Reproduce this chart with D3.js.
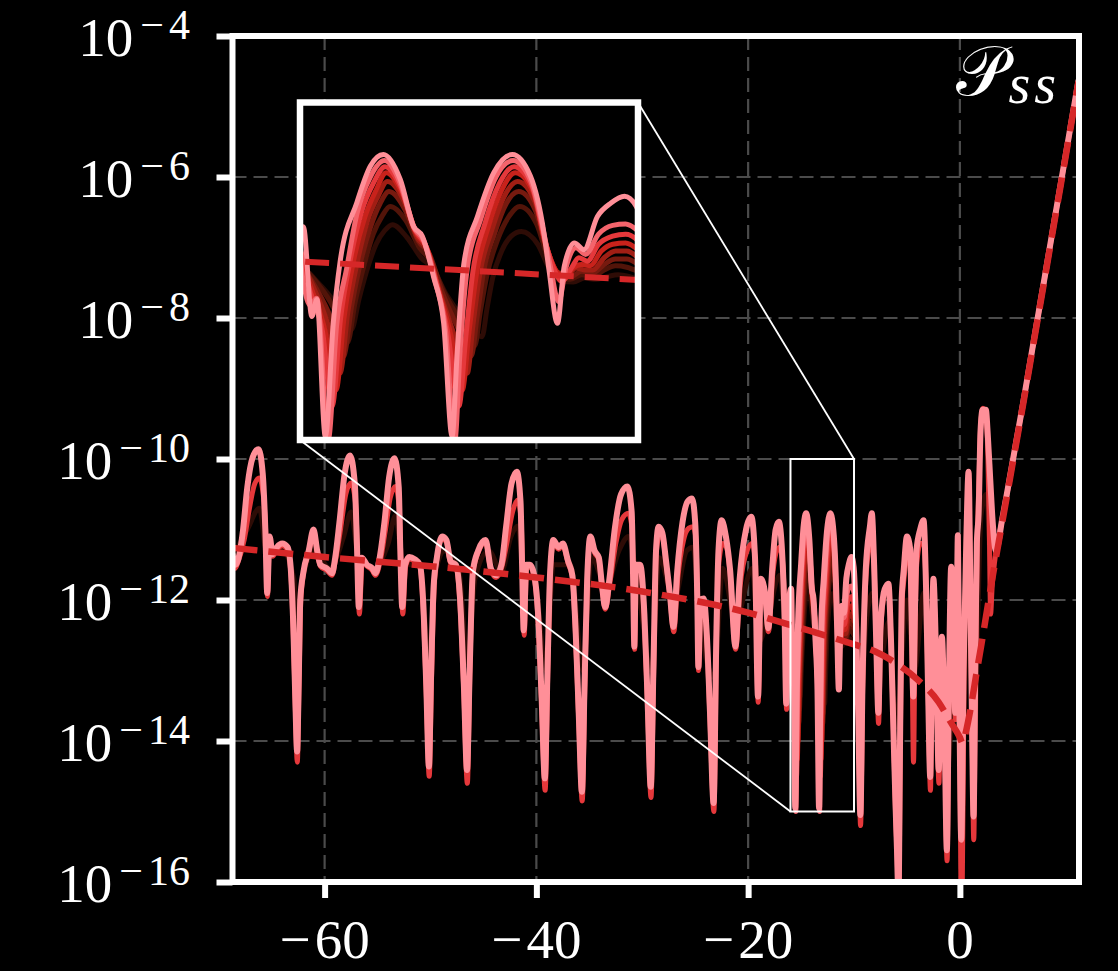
<!DOCTYPE html>
<html>
<head>
<meta charset="utf-8">
<script src="https://cdn.jsdelivr.net/npm/d3@7"></script>
<style>
  body { margin: 0; background: #000; }
  svg { display: block; }
</style>
</head>
<body>
<div class="canvas"></div>
<script>
// axis limits and ticks (y values stored as powers of ten)
var xLimits = [-68.7, 11.25];
var yLimitsExp = [-16, -4];
var xTickValues = [-60, -40, -20, 0];
var yTickExponents = [-16, -14, -12, -10, -8, -6, -4];
var insetXLimits = [-16, -10];
var insetYLimitsExp = [-15, -10];

// [x, log10 P]
var pssPink = [[-68.7,-11.35],[-68.45,-11.5],[-68.15,-11.42],[-67.7,-11.0],[-67.3,-10.4],[-66.8,-9.98],[-66.25,-9.86],[-65.85,-10.2],[-65.6,-11.0],[-65.42,-11.9],[-65.2,-11.1],[-64.9,-11.35],[-64.5,-11.25],[-64.0,-11.2],[-63.5,-11.25],[-63.2,-11.55],[-62.95,-12.4],[-62.75,-13.5],[-62.6,-14.15],[-62.45,-13.2],[-62.3,-12.0],[-62.0,-11.6],[-61.5,-11.3],[-61.05,-11.0],[-60.7,-11.3],[-60.4,-11.5],[-59.8,-11.55],[-59.3,-11.62],[-59.0,-11.4],[-58.6,-10.9],[-58.1,-10.2],[-57.6,-9.95],[-57.15,-10.35],[-56.95,-11.2],[-56.77,-12.1],[-56.5,-11.4],[-56.0,-11.5],[-55.5,-11.55],[-55.2,-11.62],[-54.8,-11.4],[-54.35,-10.9],[-53.9,-10.25],[-53.4,-9.99],[-53.0,-10.4],[-52.85,-11.3],[-52.67,-12.1],[-52.4,-11.5],[-52.0,-11.39],[-51.5,-11.42],[-51.0,-11.5],[-50.7,-12.0],[-50.4,-13.2],[-50.15,-14.36],[-49.95,-13.1],[-49.7,-11.8],[-49.4,-11.4],[-48.9,-11.1],[-48.5,-11.15],[-48.1,-11.45],[-47.6,-11.5],[-47.2,-12.0],[-46.85,-13.2],[-46.55,-14.41],[-46.3,-13.0],[-46.0,-11.6],[-45.5,-11.3],[-44.8,-11.15],[-44.3,-11.55],[-43.8,-11.65],[-43.3,-11.5],[-42.85,-10.95],[-42.35,-10.35],[-41.85,-10.18],[-41.5,-10.6],[-41.35,-11.5],[-41.2,-12.43],[-40.95,-11.5],[-40.6,-11.5],[-40.2,-11.65],[-39.8,-12.3],[-39.5,-13.4],[-39.2,-14.53],[-38.95,-13.0],[-38.7,-11.6],[-38.4,-11.15],[-37.9,-11.25],[-37.5,-11.2],[-37.0,-11.45],[-36.6,-11.65],[-36.3,-12.4],[-36.0,-13.6],[-35.7,-14.72],[-35.45,-13.2],[-35.2,-11.7],[-34.9,-11.1],[-34.5,-11.3],[-34.1,-11.4],[-33.8,-11.8],[-33.5,-12.1],[-33.1,-11.7],[-32.6,-11.0],[-32.0,-10.5],[-31.4,-10.39],[-31.0,-10.75],[-30.85,-11.8],[-30.75,-12.66],[-30.6,-11.5],[-30.2,-11.5],[-29.8,-12.2],[-29.5,-13.4],[-29.2,-14.65],[-28.95,-13.0],[-28.7,-11.3],[-28.45,-10.96],[-28.1,-11.05],[-27.75,-11.45],[-27.4,-11.9],[-27.05,-12.38],[-26.7,-11.6],[-26.2,-10.9],[-25.7,-10.6],[-25.3,-10.56],[-25.0,-10.9],[-24.8,-12.0],[-24.7,-12.95],[-24.5,-12.0],[-24.2,-11.98],[-23.9,-12.5],[-23.6,-13.6],[-23.26,-14.88],[-23.0,-12.5],[-22.8,-11.3],[-22.5,-10.87],[-22.1,-11.1],[-21.7,-11.58],[-21.2,-12.66],[-20.8,-11.7],[-20.2,-11.0],[-19.7,-10.82],[-19.35,-11.4],[-19.07,-13.37],[-18.8,-11.7],[-18.4,-11.9],[-18.1,-12.4],[-17.7,-11.5],[-17.4,-11.0],[-17.1,-10.89],[-16.8,-11.3],[-16.55,-12.3],[-16.4,-13.47],[-16.2,-12.2],[-15.94,-11.84],[-15.79,-13.17],[-15.7,-12.92],[-15.55,-14.95],[-15.41,-13.27],[-15.29,-12.37],[-14.99,-11.48],[-14.75,-10.94],[-14.52,-10.77],[-14.22,-11.14],[-13.98,-11.84],[-13.83,-11.98],[-13.63,-12.58],[-13.45,-13.27],[-13.3,-14.95],[-13.21,-13.71],[-13.09,-12.38],[-12.85,-11.69],[-12.56,-11.04],[-12.23,-10.77],[-11.91,-11.09],[-11.67,-11.93],[-11.58,-12.48],[-11.43,-13.27],[-11.31,-12.43],[-11.13,-12.08],[-10.96,-12.18],[-10.72,-11.69],[-10.48,-11.49],[-10.24,-11.39],[-10.03,-11.54],[-9.8,-12.4],[-9.6,-13.6],[-9.4,-15.05],[-9.2,-13.2],[-8.9,-11.6],[-8.5,-10.96],[-8.32,-10.77],[-8.1,-11.5],[-7.9,-12.6],[-7.7,-13.6],[-7.5,-12.4],[-7.2,-11.9],[-6.95,-11.8],[-6.75,-11.77],[-6.5,-12.6],[-6.25,-14.0],[-6.1,-14.79],[-5.95,-15.5],[-5.8,-16.2],[-5.65,-14.0],[-5.5,-12.0],[-5.3,-11.57],[-5.0,-11.1],[-4.7,-11.27],[-4.55,-12.3],[-4.4,-13.37],[-4.25,-12.2],[-4.1,-11.3],[-3.75,-11.0],[-3.43,-10.87],[-3.2,-11.8],[-3.0,-13.3],[-2.8,-14.51],[-2.65,-12.8],[-2.5,-11.7],[-2.25,-12.8],[-2.0,-14.41],[-1.85,-13.4],[-1.7,-12.52],[-1.45,-13.8],[-1.23,-15.55],[-1.05,-13.4],[-0.82,-11.53],[-0.6,-12.6],[-0.44,-13.6],[-0.3,-12.4],[-0.19,-11.08],[-0.05,-13.4],[0.13,-15.4],[0.35,-13.0],[0.6,-11.2],[0.82,-10.18],[1.0,-12.0],[1.15,-13.8],[1.29,-15.07],[1.45,-13.0],[1.6,-11.2],[1.77,-10.77],[1.95,-9.6],[2.15,-9.3],[2.45,-9.3],[2.65,-9.7],[2.87,-10.3],[3.1,-10.9],[3.4,-11.3],[4.0,-10.85],[5.0,-10.02],[6.0,-9.18],[7.0,-8.3],[8.0,-7.43],[9.0,-6.55],[10.0,-5.68],[11.2,-4.63]];

var pssRed = [[-68.7,-11.4],[-68.45,-11.55],[-68.15,-11.45],[-67.6,-11.15],[-67.1,-10.7],[-66.6,-10.35],[-66.15,-10.27],[-65.8,-10.5],[-65.55,-11.1],[-65.4,-11.95],[-65.2,-11.15],[-64.9,-11.38],[-64.5,-11.28],[-64.0,-11.23],[-63.5,-11.28],[-63.2,-11.6],[-62.95,-12.5],[-62.75,-13.6],[-62.58,-14.3],[-62.42,-13.2],[-62.25,-12.0],[-62.0,-11.62],[-61.5,-11.33],[-61.0,-11.05],[-60.7,-11.33],[-60.4,-11.52],[-59.8,-11.58],[-59.3,-11.65],[-59.0,-11.45],[-58.5,-11.0],[-58.0,-10.5],[-57.5,-10.34],[-57.1,-10.6],[-56.9,-11.3],[-56.72,-12.2],[-56.45,-11.45],[-56.0,-11.52],[-55.5,-11.58],[-55.2,-11.65],[-54.75,-11.45],[-54.25,-11.0],[-53.8,-10.55],[-53.3,-10.39],[-52.95,-10.7],[-52.8,-11.4],[-52.62,-12.2],[-52.35,-11.52],[-52.0,-11.42],[-51.5,-11.45],[-51.0,-11.53],[-50.7,-12.1],[-50.4,-13.3],[-50.12,-14.5],[-49.9,-13.1],[-49.65,-11.8],[-49.4,-11.42],[-48.9,-11.13],[-48.5,-11.18],[-48.1,-11.48],[-47.6,-11.53],[-47.2,-12.1],[-46.85,-13.3],[-46.52,-14.6],[-46.28,-13.0],[-46.0,-11.62],[-45.5,-11.33],[-44.8,-11.18],[-44.3,-11.58],[-43.8,-11.68],[-43.3,-11.55],[-42.8,-11.2],[-42.25,-10.75],[-41.75,-10.58],[-41.45,-10.85],[-41.3,-11.6],[-41.15,-12.5],[-40.92,-11.52],[-40.6,-11.53],[-40.2,-11.68],[-39.8,-12.4],[-39.5,-13.5],[-39.17,-14.7],[-38.92,-13.0],[-38.68,-11.62],[-38.4,-11.18],[-37.9,-11.28],[-37.5,-11.23],[-37.0,-11.48],[-36.6,-11.68],[-36.3,-12.5],[-36.0,-13.7],[-35.67,-14.85],[-35.42,-13.2],[-35.18,-11.72],[-34.9,-11.13],[-34.5,-11.33],[-34.1,-11.43],[-33.8,-11.83],[-33.5,-12.13],[-33.05,-11.75],[-32.5,-11.2],[-31.9,-10.85],[-31.3,-10.77],[-30.95,-11.0],[-30.82,-11.9],[-30.72,-12.7],[-30.58,-11.52],[-30.2,-11.53],[-29.8,-12.3],[-29.5,-13.5],[-29.17,-14.8],[-28.92,-13.0],[-28.68,-11.35],[-28.4,-11.1],[-28.1,-11.1],[-27.75,-11.48],[-27.4,-11.93],[-27.02,-12.45],[-26.65,-11.7],[-26.1,-11.15],[-25.6,-10.98],[-25.2,-10.96],[-24.95,-11.1],[-24.78,-12.05],[-24.68,-13.0],[-24.48,-12.05],[-24.2,-12.0],[-23.9,-12.55],[-23.6,-13.7],[-23.23,-15.0],[-22.98,-12.5],[-22.75,-11.45],[-22.4,-11.2],[-22.05,-11.25],[-21.7,-11.62],[-21.18,-12.7],[-20.75,-11.8],[-20.1,-11.3],[-19.6,-11.2],[-19.3,-11.5],[-19.05,-13.45],[-18.78,-11.75],[-18.4,-11.93],[-18.08,-12.45],[-17.65,-11.6],[-17.3,-11.3],[-17.0,-11.25],[-16.75,-11.45],[-16.52,-12.35],[-16.37,-13.55],[-16.18,-12.3],[-16.05,-12.1],[-15.82,-12.8],[-15.6,-13.4],[-15.43,-14.5],[-15.28,-13.2],[-15.1,-12.3],[-14.9,-11.6],[-14.7,-11.2],[-14.49,-10.95],[-14.2,-11.28],[-13.95,-11.9],[-13.78,-12.1],[-13.57,-12.7],[-13.38,-13.4],[-13.18,-14.5],[-13.06,-13.5],[-12.93,-12.5],[-12.72,-11.8],[-12.46,-11.2],[-12.2,-10.95],[-11.88,-11.25],[-11.65,-12.05],[-11.5,-12.45],[-11.35,-12.65],[-11.18,-12.45],[-11.05,-12.3],[-10.9,-12.35],[-10.7,-12.1],[-10.45,-11.98],[-10.22,-11.95],[-10.0,-12.05],[-9.78,-12.5],[-9.58,-13.7],[-9.38,-15.2],[-9.18,-13.2],[-8.88,-11.7],[-8.5,-11.2],[-8.3,-11.1],[-8.08,-11.6],[-7.88,-12.7],[-7.68,-13.75],[-7.48,-12.45],[-7.18,-11.95],[-6.93,-11.85],[-6.73,-11.85],[-6.48,-12.7],[-6.23,-14.1],[-6.08,-15.0],[-5.93,-15.6],[-5.78,-16.3],[-5.63,-14.1],[-5.48,-12.1],[-5.28,-11.7],[-4.98,-11.4],[-4.68,-11.45],[-4.53,-12.6],[-4.38,-14.3],[-4.23,-12.4],[-4.08,-11.5],[-3.73,-11.2],[-3.41,-11.2],[-3.18,-11.9],[-2.98,-13.4],[-2.78,-14.7],[-2.63,-12.9],[-2.48,-11.9],[-2.23,-13.0],[-1.98,-14.6],[-1.83,-13.5],[-1.68,-12.7],[-1.43,-14.0],[-1.21,-15.7],[-1.03,-13.5],[-0.8,-11.7],[-0.58,-12.7],[-0.42,-13.7],[-0.28,-12.5],[-0.17,-11.3],[-0.03,-13.6],[0.18,-16.8],[0.38,-13.1],[0.62,-11.4],[0.84,-10.5],[1.02,-12.2],[1.17,-14.0],[1.31,-15.4],[1.47,-13.1],[1.62,-11.4],[1.8,-10.3],[1.98,-9.5],[2.17,-9.28],[2.45,-9.35],[2.65,-10.0],[2.78,-11.0],[2.9,-12.2],[3.05,-11.8],[3.4,-11.32],[4.0,-10.87],[5.0,-10.03],[6.0,-9.19],[7.0,-8.31],[8.0,-7.44],[9.0,-6.56],[10.0,-5.69],[11.2,-4.64]];

var pssDark = [[-68.7,-11.4],[-67.3,-11.0],[-66.15,-10.7],[-65.5,-11.3],[-64.0,-11.3],[-62.9,-11.7],[-62.55,-12.8],[-62.2,-11.8],[-61.0,-11.3],[-59.5,-11.55],[-58.2,-11.1],[-57.5,-10.75],[-56.8,-11.4],[-55.3,-11.55],[-54.0,-11.2],[-53.3,-10.8],[-52.6,-11.5],[-51.0,-11.5],[-50.1,-12.9],[-49.5,-11.6],[-48.7,-11.3],[-47.3,-11.6],[-46.5,-12.9],[-45.8,-11.7],[-44.5,-11.3],[-43.3,-11.6],[-42.4,-11.1],[-41.75,-10.95],[-41.1,-11.7],[-40.2,-11.7],[-39.1,-13.0],[-38.4,-11.5],[-36.8,-11.5],[-35.6,-13.0],[-34.8,-11.4],[-33.4,-11.8],[-32.2,-11.3],[-31.3,-11.1],[-30.5,-11.7],[-29.1,-13.0],[-28.4,-11.4],[-27.0,-12.0],[-25.8,-11.3],[-25.2,-11.25],[-24.6,-12.2],[-23.2,-13.1],[-22.4,-11.55],[-21.2,-12.3],[-19.6,-11.55],[-19.0,-12.6],[-18.1,-12.2],[-17.0,-11.65],[-16.3,-12.6],[-16.05,-12.4],[-15.7,-12.65],[-15.35,-13.0],[-15.09,-13.37],[-14.95,-12.9],[-14.8,-12.45],[-14.65,-12.1],[-14.5,-11.9],[-14.36,-11.81],[-14.1,-12.0],[-13.85,-12.3],[-13.65,-12.45],[-13.4,-12.85],[-13.1,-13.2],[-12.77,-13.47],[-12.68,-13.05],[-12.58,-12.6],[-12.42,-12.2],[-12.25,-11.98],[-12.07,-11.91],[-11.78,-12.1],[-11.55,-12.5],[-11.35,-12.65],[-11.15,-12.66],[-10.95,-12.6],[-10.75,-12.62],[-10.55,-12.58],[-10.35,-12.55],[-10.15,-12.58],[-10.0,-12.62],[-9.7,-12.7],[-9.3,-13.4],[-8.9,-12.4],[-8.25,-11.9],[-7.6,-12.9],[-6.7,-12.3],[-6.0,-13.8],[-5.0,-12.0],[-4.3,-13.0],[-3.4,-11.9],[-2.8,-13.6],[-2.0,-13.6],[-1.2,-14.4],[-0.2,-12.2],[0.15,-14.8],[0.8,-11.5],[1.3,-14.2],[2.0,-10.8],[2.5,-10.5],[3.0,-11.7],[3.4,-11.35],[4.0,-10.88],[5.0,-10.04],[6.0,-9.19],[7.0,-8.31],[8.0,-7.44],[9.0,-6.56],[10.0,-5.69],[11.2,-4.64]];

// intermediate runs, read only inside the zoom window
var pssZoomA = [[-16.05,-12.0],[-15.82,-13.0],[-15.7,-12.9],[-15.5,-15.0],[-15.35,-13.3],[-15.17,-12.45],[-14.99,-11.65],[-14.75,-11.1],[-14.5,-10.86],[-14.22,-11.2],[-13.98,-11.85],[-13.8,-12.05],[-13.6,-12.65],[-13.42,-13.35],[-13.25,-15.0],[-13.16,-13.7],[-13.03,-12.45],[-12.8,-11.75],[-12.52,-11.1],[-12.22,-10.86],[-11.9,-11.17],[-11.66,-11.98],[-11.55,-12.45],[-11.41,-12.95],[-11.28,-12.45],[-11.1,-12.15],[-10.93,-12.25],[-10.7,-11.95],[-10.45,-11.82],[-10.22,-11.8],[-10.0,-11.9]];
var pssZoomB = [[-16.05,-12.2],[-15.8,-12.75],[-15.55,-13.4],[-15.36,-14.26],[-15.22,-13.2],[-15.05,-12.35],[-14.85,-11.7],[-14.65,-11.3],[-14.47,-11.04],[-14.18,-11.36],[-13.93,-11.95],[-13.75,-12.15],[-13.55,-12.75],[-13.32,-13.45],[-13.12,-14.26],[-13.0,-13.4],[-12.86,-12.5],[-12.66,-11.85],[-12.42,-11.3],[-12.18,-11.04],[-11.86,-11.33],[-11.64,-12.1],[-11.45,-12.5],[-11.3,-12.6],[-11.15,-12.45],[-11.0,-12.4],[-10.85,-12.42],[-10.65,-12.2],[-10.45,-12.1],[-10.22,-12.08],[-10.0,-12.18]];
var pssZoomC = [[-16.05,-12.25],[-15.78,-12.7],[-15.5,-13.3],[-15.29,-14.01],[-15.15,-13.1],[-14.98,-12.35],[-14.8,-11.75],[-14.62,-11.4],[-14.45,-11.17],[-14.16,-11.45],[-13.92,-12.0],[-13.73,-12.2],[-13.52,-12.8],[-13.28,-13.4],[-13.03,-14.01],[-12.93,-13.3],[-12.8,-12.5],[-12.6,-11.9],[-12.38,-11.4],[-12.14,-11.17],[-11.84,-11.45],[-11.62,-12.15],[-11.42,-12.52],[-11.25,-12.55],[-11.1,-12.45],[-10.95,-12.48],[-10.8,-12.48],[-10.6,-12.3],[-10.4,-12.2],[-10.2,-12.2],[-10.0,-12.3]];
var pssZoomD = [[-16.05,-12.3],[-15.75,-12.7],[-15.45,-13.2],[-15.23,-13.76],[-15.08,-13.0],[-14.92,-12.35],[-14.75,-11.85],[-14.58,-11.5],[-14.42,-11.32],[-14.14,-11.58],[-13.9,-12.05],[-13.7,-12.25],[-13.48,-12.8],[-13.22,-13.3],[-12.96,-13.76],[-12.86,-13.2],[-12.74,-12.5],[-12.55,-11.95],[-12.34,-11.5],[-12.12,-11.32],[-11.82,-11.6],[-11.6,-12.25],[-11.4,-12.55],[-11.2,-12.58],[-11.0,-12.5],[-10.8,-12.52],[-10.6,-12.4],[-10.4,-12.32],[-10.2,-12.32],[-10.0,-12.4]];
var pssZoomE = [[-16.05,-12.35],[-15.72,-12.65],[-15.4,-13.05],[-15.16,-13.56],[-15.02,-12.95],[-14.86,-12.4],[-14.7,-11.95],[-14.54,-11.68],[-14.4,-11.54],[-14.12,-11.75],[-13.88,-12.15],[-13.68,-12.35],[-13.45,-12.8],[-13.18,-13.2],[-12.9,-13.61],[-12.8,-13.1],[-12.68,-12.55],[-12.5,-12.05],[-12.3,-11.7],[-12.1,-11.54],[-11.8,-11.8],[-11.58,-12.35],[-11.38,-12.6],[-11.2,-12.62],[-11.0,-12.55],[-10.8,-12.57],[-10.6,-12.48],[-10.4,-12.42],[-10.2,-12.44],[-10.0,-12.5]];

// dashed reference curve
var pssReference = [[-68.7,-11.26],[-60,-11.39],[-50,-11.52],[-40,-11.68],[-30,-11.88],[-20,-12.18],[-15,-12.4],[-10,-12.63],[-8,-12.73],[-6,-12.9],[-4,-13.13],[-2,-13.45],[-1,-13.7],[0,-13.95],[0.25,-14.03],[0.6,-13.85],[1.0,-13.55],[1.5,-13.1],[2.0,-12.66],[3.0,-11.75],[4.0,-10.9],[5.0,-10.05],[6.0,-9.2],[7.0,-8.32],[8.0,-7.45],[9.0,-6.57],[10.0,-5.7],[11.2,-4.65]];

// drawn dark first, pink last
var seriesList = [pssDark, pssZoomE, pssZoomD, pssZoomC, pssZoomB, pssRed, pssZoomA, pssPink];
var seriesColors = ["#2e0c06", "#521409", "#761a0f", "#a01e14", "#c8221b", "#e5383b", "#f4646c", "#ff8f98"];

var W = 1118, H = 971;
var margin = {top: 36, left: 232.5, right: 39, bottom: 89};
var width = W - margin.left - margin.right;
var height = H - margin.top - margin.bottom;

var svg = d3.select(".canvas").append("svg")
  .attr("width", W)
  .attr("height", H)
  .style("background", "#000");

var defs = svg.append("defs");
defs.append("clipPath").attr("id", "plot-clip")
  .append("rect").attr("width", width).attr("height", height);

var x = d3.scaleLinear().domain(xLimits).range([0, width]);
var y = d3.scaleLog().domain(yLimitsExp.map(function(e){ return Math.pow(10, e); })).range([height, 0]);

var g = svg.append("g").attr("transform", "translate(" + margin.left + "," + margin.top + ")");

// grid
g.append("g").selectAll("line")
  .data(xTickValues).enter().append("line")
  .attr("x1", function(d){ return x(d); }).attr("x2", function(d){ return x(d); })
  .attr("y1", 0).attr("y2", height)
  .attr("stroke", "#4b4b4b").attr("stroke-width", 2.2).attr("stroke-dasharray", "14,7");
g.append("g").selectAll("line")
  .data(yTickExponents).enter().append("line")
  .attr("x1", 0).attr("x2", width)
  .attr("y1", function(d){ return y(Math.pow(10, d)); }).attr("y2", function(d){ return y(Math.pow(10, d)); })
  .attr("stroke", "#4b4b4b").attr("stroke-width", 2.2).attr("stroke-dasharray", "14,7");

function makeLine(xs, ys) {
  return d3.line()
    .x(function(d){ return xs(d[0]); })
    .y(function(d){ return ys(Math.pow(10, d[1])); })
    .curve(d3.curveMonotoneX);
}

var line = makeLine(x, y);
var plot = g.append("g").attr("clip-path", "url(#plot-clip)");

plot.selectAll(".pss")
  .data(seriesList).enter().append("path")
  .attr("class", "pss")
  .attr("d", line)
  .attr("fill", "none")
  .attr("stroke", function(d, i){ return seriesColors[i]; })
  .attr("stroke-width", function(d, i){ return i === seriesList.length - 1 ? 6 : 5; })
  .attr("stroke-linejoin", "round")
  .attr("stroke-linecap", "round");

plot.append("path")
  .datum(pssReference)
  .attr("d", line)
  .attr("fill", "none")
  .attr("stroke", "#d62728")
  .attr("stroke-width", 6.5)
  .attr("stroke-dasharray", "25,11");

// inset placement (plot coords)
var inset = {x: 67.5, y: 66.5, w: 338, h: 337.5};

// zoom marker rectangle + connectors
var rx0 = x(insetXLimits[0]), rx1 = x(insetXLimits[1]);
var ry0 = y(Math.pow(10, insetYLimitsExp[1])), ry1 = y(Math.pow(10, insetYLimitsExp[0]));
g.append("rect")
  .attr("x", rx0).attr("y", ry0)
  .attr("width", rx1 - rx0).attr("height", ry1 - ry0)
  .attr("fill", "none").attr("stroke", "#fff").attr("stroke-width", 2);
g.append("line")
  .attr("x1", inset.x + inset.w).attr("y1", inset.y)
  .attr("x2", rx1).attr("y2", ry0)
  .attr("stroke", "#fff").attr("stroke-width", 1.8);
g.append("line")
  .attr("x1", inset.x).attr("y1", inset.y + inset.h)
  .attr("x2", rx0).attr("y2", ry1)
  .attr("stroke", "#fff").attr("stroke-width", 1.8);

// axes
var xAxis = d3.axisBottom(x).tickValues(xTickValues).tickSize(16).tickFormat("");
var yAxis = d3.axisLeft(y).tickValues(yTickExponents.map(function(e){ return Math.pow(10, e); })).tickSize(16).tickFormat("");
var gx = g.append("g").attr("transform", "translate(0," + height + ")").call(xAxis);
var gy = g.append("g").call(yAxis);
[gx, gy].forEach(function(a){
  a.select(".domain").remove();
  a.selectAll(".tick line").attr("stroke", "#fff").attr("stroke-width", 6);
});

g.append("rect")
  .attr("width", width).attr("height", height)
  .attr("fill", "none").attr("stroke", "#fff").attr("stroke-width", 6);

// tick labels
var labelFont = "Liberation Serif";
g.append("g").selectAll("text")
  .data(xTickValues).enter().append("text")
  .attr("x", function(d){ return x(d); })
  .attr("y", height + 76)
  .attr("text-anchor", "middle")
  .attr("fill", "#fff")
  .attr("font-family", labelFont)
  .attr("font-size", 55)
  .each(function(d){
    var t = d3.select(this);
    if (d < 0) {
      t.append("tspan").text("\u2212");
      t.append("tspan").attr("dx", 4).text(Math.abs(d));
    } else {
      t.text(d);
    }
  });

g.append("g").selectAll("text")
  .data(yTickExponents).enter().append("text")
  .attr("x", 190 - margin.left)
  .attr("y", function(d){ return y(Math.pow(10, d)) + 20; })
  .attr("text-anchor", "end")
  .attr("fill", "#fff")
  .attr("font-family", labelFont)
  .attr("font-size", 55)
  .each(function(d){
    var t = d3.select(this);
    t.append("tspan").text("10");
    t.append("tspan").attr("dx", 7).attr("dy", -17).attr("font-size", 42).text("\u2212");
    t.append("tspan").attr("dx", 5).attr("font-size", 42).text(Math.abs(d));
  });

// panel label
var title = svg.append("text")
  .attr("x", 1060).attr("y", 95)
  .attr("text-anchor", "end")
  .attr("fill", "#fff");
title.append("tspan")
  .attr("font-family", "DejaVu Serif")
  .attr("font-size", 70)
  .text("\uD835\uDCAB");
title.append("tspan")
  .attr("dx", 2)
  .attr("dy", 8)
  .attr("font-family", labelFont)
  .attr("font-style", "italic")
  .attr("font-size", 56)
  .attr("letter-spacing", 4)
  .text("ss");

// inset axes
var xi = d3.scaleLinear().domain(insetXLimits).range([0, inset.w]);
var yi = d3.scaleLog().domain(insetYLimitsExp.map(function(e){ return Math.pow(10, e); })).range([inset.h, 0]);
var lineInset = makeLine(xi, yi);

defs.append("clipPath").attr("id", "inset-clip")
  .append("rect").attr("width", inset.w).attr("height", inset.h);

var gi = g.append("g").attr("transform", "translate(" + inset.x + "," + inset.y + ")");
gi.append("rect").attr("width", inset.w).attr("height", inset.h).attr("fill", "#000");
var insetPlot = gi.append("g").attr("clip-path", "url(#inset-clip)");

insetPlot.selectAll(".pss-inset")
  .data(seriesList).enter().append("path")
  .attr("class", "pss-inset")
  .attr("d", lineInset)
  .attr("fill", "none")
  .attr("stroke", function(d, i){ return seriesColors[i]; })
  .attr("stroke-width", 5)
  .attr("stroke-linejoin", "round")
  .attr("stroke-linecap", "round");

insetPlot.append("path")
  .datum(pssReference)
  .attr("d", lineInset)
  .attr("fill", "none")
  .attr("stroke", "#d62728")
  .attr("stroke-width", 6)
  .attr("stroke-dasharray", "24,11");

gi.append("rect")
  .attr("width", inset.w).attr("height", inset.h)
  .attr("fill", "none").attr("stroke", "#fff").attr("stroke-width", 6.5);
</script>
</body>
</html>
